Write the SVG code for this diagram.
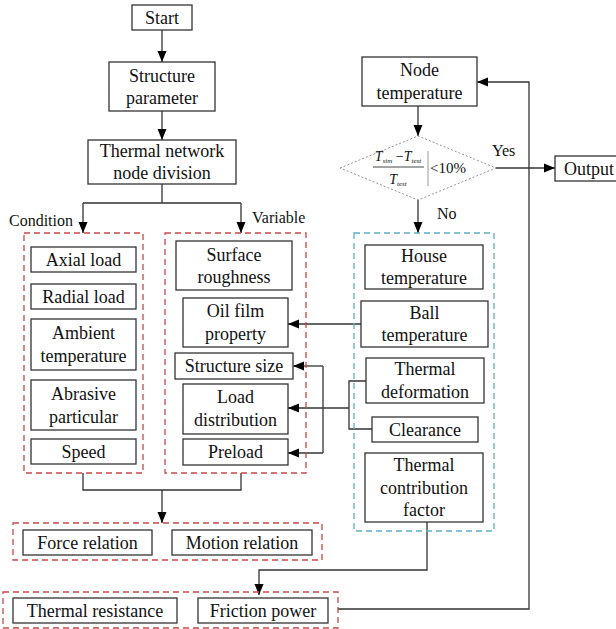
<svg xmlns="http://www.w3.org/2000/svg" width="616" height="629" viewBox="0 0 616 629">
<defs>
<marker id="arr" markerWidth="11" markerHeight="10" refX="11" refY="5" orient="auto" markerUnits="userSpaceOnUse"><path d="M0,0.5 L11,5 L0,9.5 z" fill="#000"/></marker>
<style>
.box{fill:#fff;stroke:#333;stroke-width:1.3}
.red{fill:none;stroke:#c9484a;stroke-width:1.3;stroke-dasharray:6,4}
.blue{fill:none;stroke:#5fb0c4;stroke-width:1.3;stroke-dasharray:6,4}
.dia{fill:#fff;stroke:#888;stroke-width:0.9;stroke-dasharray:2,2}
.t{font-family:'Liberation Serif',serif;font-size:18px;fill:#111;text-anchor:middle}
.s{font-family:'Liberation Serif',serif;font-size:16px;fill:#111}
.f{font-family:'Liberation Serif',serif;fill:#111}
.c{fill:none;stroke:#333;stroke-width:1.3}
.a{fill:none;stroke:#333;stroke-width:1.3;marker-end:url(#arr)}
</style>
</defs>
<rect width="616" height="629" fill="#fff"/>

<g id="connectors">
<path class="a" d="M162,30 V62"/>
<path class="a" d="M162,111 V140"/>
<path class="c" d="M162,184 V203 M83,203 H241"/>
<path class="a" d="M83,203 V233"/>
<path class="a" d="M241,203 V233"/>
<path class="c" d="M83,473 V490 H241 V473"/>
<path class="a" d="M162,490 V523"/>
<path class="a" d="M418,106 V136"/>
<path class="a" d="M496,168 H555"/>
<path class="a" d="M418,200 V233"/>
<path class="a" d="M361,324 H288"/>
<path class="c" d="M366,381 H349 V429 H372"/>
<path class="a" d="M349,408 H288"/>
<path class="a" d="M323,366 H293"/>
<path class="c" d="M323,366 V453"/>
<path class="a" d="M323,453 H288"/>
<path class="a" d="M427,522 V570 H259 V595"/>
<path class="a" d="M338,609 H529 V82 H477"/>
<text class="s" x="9" y="226">Condition</text>
<text class="s" x="252" y="223">Variable</text>
<text class="s" x="492" y="156">Yes</text>
<text class="s" x="437" y="219">No</text>
</g>

<g id="start"><rect class="box" x="132" y="5" width="60" height="25"/><text class="t" x="162" y="24">Start</text></g>
<g id="structure-parameter"><rect class="box" x="109" y="62" width="106" height="49"/><text class="t" x="162" y="82">Structure</text><text class="t" x="162" y="104">parameter</text></g>
<g id="thermal-network"><rect class="box" x="88" y="140" width="148" height="44"/><text class="t" x="162" y="157">Thermal network</text><text class="t" x="162" y="179">node division</text></g>

<g id="condition-group"><rect class="red" x="24" y="233" width="119" height="240"/></g>
<g id="axial-load"><rect class="box" x="31" y="247" width="105" height="25"/><text class="t" x="83.5" y="266">Axial load</text></g>
<g id="radial-load"><rect class="box" x="31" y="284" width="105" height="25"/><text class="t" x="83.5" y="303">Radial load</text></g>
<g id="ambient-temperature"><rect class="box" x="31" y="319" width="105" height="51"/><text class="t" x="83.5" y="339">Ambient</text><text class="t" x="83.5" y="362">temperature</text></g>
<g id="abrasive-particular"><rect class="box" x="31" y="380" width="105" height="50"/><text class="t" x="83.5" y="400">Abrasive</text><text class="t" x="83.5" y="423">particular</text></g>
<g id="speed"><rect class="box" x="31" y="439" width="105" height="25"/><text class="t" x="83.5" y="458">Speed</text></g>

<g id="variable-group"><rect class="red" x="165" y="233" width="141" height="240"/></g>
<g id="surface-roughness"><rect class="box" x="176" y="241" width="116" height="49"/><text class="t" x="234" y="261">Surface</text><text class="t" x="234" y="283">roughness</text></g>
<g id="oil-film"><rect class="box" x="183" y="298" width="105" height="49"/><text class="t" x="235.5" y="317">Oil film</text><text class="t" x="235.5" y="340">property</text></g>
<g id="structure-size"><rect class="box" x="175" y="353" width="118" height="26"/><text class="t" x="234" y="372">Structure size</text></g>
<g id="load-distribution"><rect class="box" x="183" y="384" width="105" height="50"/><text class="t" x="235.5" y="403">Load</text><text class="t" x="235.5" y="426">distribution</text></g>
<g id="preload"><rect class="box" x="183" y="439" width="105" height="26"/><text class="t" x="235.5" y="458">Preload</text></g>

<g id="node-temperature"><rect class="box" x="362" y="57" width="115" height="49"/><text class="t" x="419.5" y="76">Node</text><text class="t" x="419.5" y="99">temperature</text></g>
<g id="decision">
<polygon class="dia" points="340,168 418,136 496,168 418,200"/>
<text class="f" x="398" y="161" text-anchor="middle" font-size="14" font-style="italic">T<tspan font-size="7" dy="2">sim</tspan><tspan dy="-2" font-style="normal"> −</tspan>T<tspan font-size="7" dy="2">test</tspan></text>
<line x1="373" y1="167" x2="424" y2="167" stroke="#333" stroke-width="0.9"/>
<text class="f" x="398" y="184" text-anchor="middle" font-size="14" font-style="italic">T<tspan font-size="7" dy="2">test</tspan></text>
<line x1="428" y1="151" x2="428" y2="186" stroke="#999" stroke-width="1"/>
<text class="f" x="430" y="173" font-size="15">&lt;10%</text>
</g>
<g id="output"><rect class="box" x="555" y="156" width="64" height="25"/><text class="t" x="589" y="175">Output</text></g>

<g id="iteration-group"><rect class="blue" x="354" y="233" width="140" height="298"/></g>
<g id="house-temperature"><rect class="box" x="365" y="245" width="118" height="44"/><text class="t" x="424" y="262">House</text><text class="t" x="424" y="284">temperature</text></g>
<g id="ball-temperature"><rect class="box" x="361" y="301" width="127" height="46"/><text class="t" x="424.5" y="319">Ball</text><text class="t" x="424.5" y="341">temperature</text></g>
<g id="thermal-deformation"><rect class="box" x="366" y="358" width="118" height="45"/><text class="t" x="425" y="375">Thermal</text><text class="t" x="425" y="398">deformation</text></g>
<g id="clearance"><rect class="box" x="372" y="417" width="106" height="25"/><text class="t" x="425" y="436">Clearance</text></g>
<g id="thermal-contribution"><rect class="box" x="365" y="453" width="118" height="69"/><text class="t" x="424" y="471">Thermal</text><text class="t" x="424" y="494">contribution</text><text class="t" x="424" y="516">factor</text></g>

<g id="relation-group"><rect class="red" x="13" y="523" width="309" height="37"/></g>
<g id="force-relation"><rect class="box" x="23" y="530" width="129" height="25"/><text class="t" x="87.5" y="549">Force relation</text></g>
<g id="motion-relation"><rect class="box" x="172" y="530" width="140" height="25"/><text class="t" x="242" y="549">Motion relation</text></g>

<g id="thermal-group"><rect class="red" x="3" y="592" width="335" height="36"/></g>
<g id="thermal-resistance"><rect class="box" x="13" y="598" width="164" height="25"/><text class="t" x="95" y="617">Thermal resistance</text></g>
<g id="friction-power"><rect class="box" x="198" y="598" width="130" height="25"/><text class="t" x="263" y="617">Friction power</text></g>
</svg>
